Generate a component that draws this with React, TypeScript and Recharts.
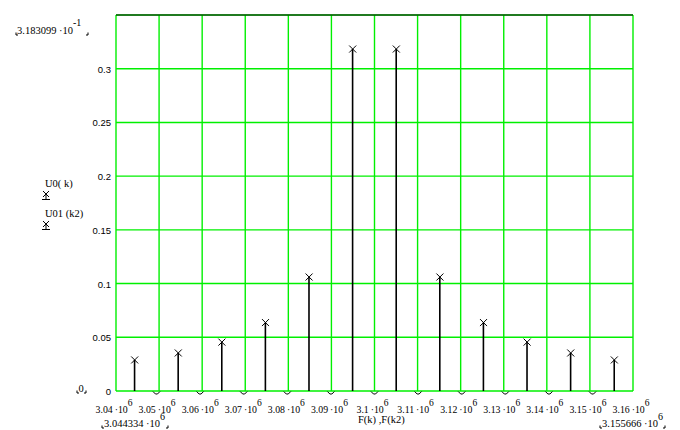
import React from 'react';
import { ComposedChart, Bar, Scatter, XAxis, YAxis, CartesianGrid, ReferenceLine } from 'recharts';

// U0(k): stem amplitudes at frequencies F(k)
const u0Freq = [3044334, 3054455, 3064576, 3074697, 3084818, 3094939, 3105061, 3115182, 3125303, 3135424, 3145545, 3155666];
const u0Values = [0.0289, 0.0354, 0.0455, 0.0637, 0.1061, 0.3183099, 0.3183099, 0.1061, 0.0637, 0.0455, 0.0354, 0.0289];
// U01(k2): zero amplitudes at frequencies F(k2)
const u01Freq = [3049395, 3059516, 3069637, 3079758, 3089879, 3100000, 3110121, 3120242, 3130363, 3140484, 3150605];
const u01Values = [0, 0, 0, 0, 0, 0, 0, 0, 0, 0, 0];

const xTicks = [3040000, 3050000, 3060000, 3070000, 3080000, 3090000, 3100000, 3110000, 3120000, 3130000, 3140000, 3150000, 3160000];
const yTicks = [0, 0.05, 0.1, 0.15, 0.2, 0.25, 0.3];
const xDomain = [3040000, 3160000];
const yDomain = [0, 0.35];

const legendLabels = ['U0( k)', 'U01 (k2)'];
const xAxisTitle = 'F(k) ,F(k2)';

const u0Data = u0Freq.map((f, i) => ({ f, v: u0Values[i] }));
const u01Data = u01Freq.map((f, i) => ({ f, v: u01Values[i] }));

const SERIF = '"Liberation Serif", "Times New Roman", serif';
const SANS = '"Liberation Sans", Arial, sans-serif';
const GRID = '#00f000';

const xMin = Math.min(...u0Freq, ...u01Freq);
const xMax = Math.max(...u0Freq, ...u01Freq);
const yMax = Math.max(...u0Values, ...u01Values);
const yMin = Math.min(...u0Values, ...u01Values);

const fmtX = (v: number) => String(parseFloat((v / 1e6).toFixed(2)));
const fmtY = (v: number) => String(parseFloat(v.toFixed(2)));

const XTick = (props: any) => {
  const { x, y, payload } = props;
  return (
    <text x={x - 2} y={y + 21.5} textAnchor="middle" fontFamily={SERIF} fontSize={9.8} fill="#000">
      <tspan>{fmtX(payload.value)}{'\u2009\u00b7'}10</tspan>
      <tspan dy={-7} fontSize={9.5}>6</tspan>
    </text>
  );
};

const YTick = (props: any) => {
  const { x, y, payload } = props;
  return (
    <text x={x - 5} y={y + 4} textAnchor="end" fontFamily={SANS} fontSize={9.5} fill="#000">
      {fmtY(payload.value)}
    </text>
  );
};

const XMark = (props: any) => {
  const { cx, cy } = props;
  if (cx == null || cy == null) return null;
  const r = 3.5;
  return (
    <g stroke="#000" strokeWidth={1}>
      <line x1={cx - r} y1={cy - r} x2={cx + r} y2={cy + r} />
      <line x1={cx - r} y1={cy + r} x2={cx + r} y2={cy - r} />
    </g>
  );
};

const VMark = (props: any) => {
  const { cx, cy } = props;
  if (cx == null || cy == null) return null;
  return (
    <path d={`M${cx - 3.5},${cy + 0.5} L${cx - 1},${cy + 3} L${cx + 1},${cy + 3} L${cx + 3.5},${cy + 0.5}`} stroke="#000" strokeWidth={1} fill="none" />
  );
};

const LegendMark = ({ x, y }: { x: number; y: number }) => (
  <g stroke="#000" strokeWidth={1} fill="none">
    <line x1={x - 3} y1={y - 3} x2={x + 3} y2={y + 3} />
    <line x1={x - 3} y1={y + 3} x2={x + 3} y2={y - 3} />
    <line x1={x} y1={y} x2={x} y2={y + 5} />
    <line x1={x - 4} y1={y + 5.5} x2={x + 4} y2={y + 5.5} />
  </g>
);

const Corner = ({ x, y, side }: { x: number; y: number; side: 'l' | 'r' }) => (
  <path
    d={side === 'l' ? `M${x},${y - 2.5} L${x},${y} L${x + 2},${y}` : `M${x - 2},${y} L${x},${y} L${x},${y - 2.5}`}
    stroke="#000"
    strokeWidth={1}
    fill="none"
  />
);

const expParts = (v: number) => {
  if (v === 0) return { m: '0', e: 0 };
  const e = Math.floor(Math.log10(Math.abs(v)));
  return { m: (v / Math.pow(10, e)).toFixed(6), e };
};

export default function App() {
  const top = expParts(yMax);
  const left = expParts(xMin);
  const right = expParts(xMax);
  return (
    <div style={{ position: 'absolute', left: 0, top: 0, width: 680, height: 430, background: '#fff' }}>
      <ComposedChart
        width={680}
        height={430}
        data={u0Data}
        margin={{ top: 15, right: 47, left: 56, bottom: 9 }}
      >
        <CartesianGrid stroke={GRID} strokeWidth={1.4} horizontal vertical />
        <XAxis
          type="number"
          dataKey="f"
          domain={xDomain}
          ticks={xTicks}
          interval={0}
          height={30}
          axisLine={false}
          tickLine={false}
          tickSize={0}
          tickMargin={0}
          tick={<XTick />}
        />
        <YAxis
          type="number"
          dataKey="v"
          domain={yDomain}
          ticks={yTicks}
          interval={0}
          width={60}
          axisLine={false}
          tickLine={false}
          tickSize={0}
          tickMargin={0}
          tick={<YTick />}
        />
        <ReferenceLine y={yDomain[1]} stroke="#000" strokeWidth={1.2} />
        <Bar dataKey="v" name="U0(k)" barSize={1.6} fill="#000" isAnimationActive={false} />
        <Scatter data={u0Data} dataKey="v" name="U0(k)" shape={<XMark />} isAnimationActive={false} />
        <Scatter data={u01Data} dataKey="v" name="U01(k2)" shape={<VMark />} isAnimationActive={false} />
      </ComposedChart>
      <svg width={680} height={430} style={{ position: 'absolute', left: 0, top: 0, pointerEvents: 'none' }}>
        {/* upper y limit */}
        <Corner x={16} y={35} side="l" />
        <text x={17} y={34} fontFamily={SERIF} fontSize={10.5} fill="#000">
          <tspan>{top.m} {'\u00b7'}10</tspan>
          <tspan dy={-8} fontSize={10}>{String(top.e)}</tspan>
        </text>
        <Corner x={88} y={35} side="r" />
        {/* lower y limit */}
        <Corner x={77} y={393} side="l" />
        <text x={78.5} y={392} fontFamily={SERIF} fontSize={10.5} fill="#000">{String(yMin)}</text>
        <Corner x={86} y={393} side="r" />
        {/* x limits */}
        <Corner x={102} y={428} side="l" />
        <text x={104} y={427} fontFamily={SERIF} fontSize={10.5} fill="#000">
          <tspan>{left.m} {'\u00b7'}10</tspan>
          <tspan dy={-7} fontSize={10}>{String(left.e)}</tspan>
        </text>
        <Corner x={168} y={428} side="r" />
        <Corner x={600} y={428} side="l" />
        <text x={602} y={427} fontFamily={SERIF} fontSize={10.5} fill="#000">
          <tspan>{right.m} {'\u00b7'}10</tspan>
          <tspan dy={-7} fontSize={10}>{String(right.e)}</tspan>
        </text>
        <Corner x={665} y={428} side="r" />
        {/* x axis title */}
        <text x={358} y={422.5} fontFamily={SERIF} fontSize={10.5} fill="#000">{xAxisTitle}</text>
        {/* legend */}
        <text x={45} y={186.5} fontFamily={SERIF} fontSize={10.5} fill="#000">{legendLabels[0]}</text>
        <LegendMark x={46} y={194} />
        <text x={45} y={216.5} fontFamily={SERIF} fontSize={10.5} fill="#000">{legendLabels[1]}</text>
        <LegendMark x={46} y={224} />
      </svg>
    </div>
  );
}
